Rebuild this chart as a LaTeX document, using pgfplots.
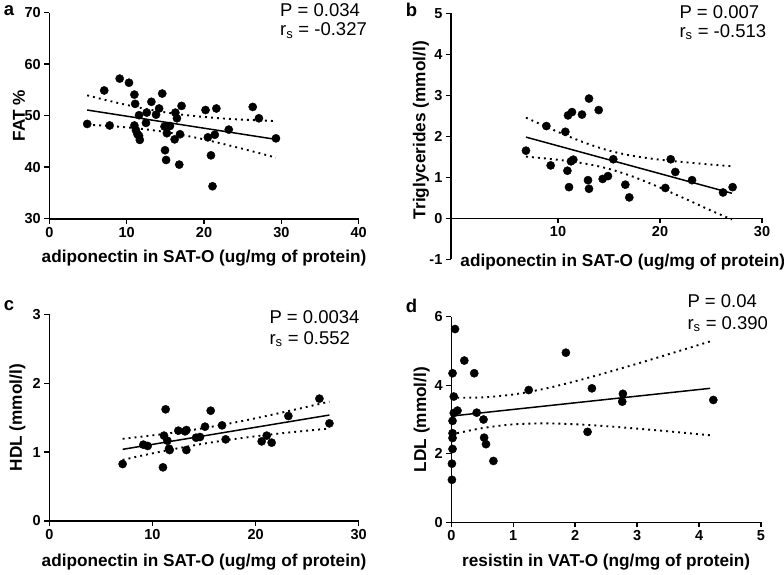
\documentclass[border=0pt]{standalone}
\usepackage{pgfplots}
\pgfplotsset{compat=1.18}
\usepackage{fontspec}
\setmainfont{Liberation Sans}
\begin{document}
\begin{tikzpicture}
\path[use as bounding box] (0pt,0pt) rectangle (784pt,574pt);
\pgfplotsset{
  panel/.style={scale only axis, axis lines*=left,
    axis line style={line width=1.6pt},
    tick style={line width=1.4pt, black}, tick align=outside, major tick length=5pt,
    ticklabel style={font=\bfseries\fontsize{14.5}{16}\selectfont},
    /pgf/number format/assume math mode=true,
    label style={font=\bfseries\fontsize{17.2}{19}\selectfont},
    clip=false},
  dots/.style={only marks, mark=*, mark size=4.1pt, black},
  fitl/.style={no marks, black, line width=1.5pt},
  band/.style={no marks, black, line width=1.9pt, dash pattern=on 1.9pt off 4.1pt, smooth},
}
% ---------- panel a ----------
\begin{axis}[panel, at={(49.3pt,355.3pt)}, anchor=south west, width=309.4pt, height=206pt,
  xmin=0, xmax=40, ymin=30, ymax=70, xtick={0,10,20,30,40}, ytick={30,40,50,60,70},
  xlabel={adiponectin in SAT-O (ug/mg of protein)},
  xlabel style={at={(axis description cs:0.5,0)}, anchor=base, yshift=-43.3pt},
  ylabel={FAT \%},
  ylabel style={at={(axis description cs:-0.098,0.5)}, anchor=center}]
\addplot[dots] coordinates {
(4.9,48.4) (7.1,54.9) (7.8,48.1) (9.1,57.2) (10.3,56.4) (11.0,54.1) (11.1,52.3)
(11.0,48.1) (11.2,47.2) (11.4,46.4) (11.6,46.1) (11.7,45.3) (11.6,50.1) (12.6,50.6)
(12.5,48.6) (13.2,52.7) (13.8,50.2) (14.2,51.4) (14.6,54.3) (14.9,47.9) (14.96,43.3)
(15.1,41.4) (15.2,46.6) (15.6,48.0) (16.3,50.6) (16.5,49.5) (16.2,45.4) (16.9,46.4)
(16.8,40.5) (17.1,51.9) (20.2,51.1) (20.5,45.8) (20.9,42.3) (21.4,46.3) (21.6,51.4)
(21.1,36.3) (23.2,47.3) (26.3,51.7) (27.1,49.5) (29.3,45.6)};
\addplot[fitl] coordinates {(4.9,51.1) (29.3,45.4)};
\addplot[band] coordinates {(4.9,53.95) (7,53.15) (9,52.43) (11,51.77) (13,51.17) (15,50.65) (17,50.23) (19,49.90) (21,49.63) (23,49.41) (25,49.23) (27,49.10) (29.3,48.95)};
\addplot[band] coordinates {(4.9,48.25) (7,48.07) (9,47.85) (11,47.59) (13,47.25) (15,46.83) (17,46.31) (19,45.72) (21,45.05) (23,44.33) (25,43.57) (27,42.79) (29.3,41.85)};
\end{axis}
% ---------- panel b ----------
\begin{axis}[panel, axis x line*=middle, axis y line*=left,
  at={(450.9pt,314.7pt)}, anchor=south west, width=311.1pt, height=246pt,
  xmin=-0.5, xmax=30, ymin=-1, ymax=5, xtick={10,20,30}, ytick={-1,0,1,2,3,4,5},
  xlabel={adiponectin in SAT-O (ug/mg of protein)},
  xlabel style={at={(axis description cs:0,0)}, anchor=base west, xshift=6pt, yshift=-6.7pt},
  ylabel={Triglycerides (mmol/l)},
  ylabel style={at={(axis description cs:-0.0965,0.525)}, anchor=center}]
\addplot[dots] coordinates {
(6.86,1.65) (8.86,2.25) (9.28,1.29) (10.72,2.11) (10.98,2.51) (11.37,2.59) (10.92,1.16)
(11.08,0.76) (11.27,1.39) (11.5,1.43) (12.35,2.53) (13.04,2.92) (12.94,0.93) (13.04,0.72)
(13.99,2.64) (14.38,0.96) (14.9,1.03) (15.42,1.44) (16.6,0.82) (16.99,0.51) (20.52,0.74)
(21.05,1.44) (21.5,1.13) (23.14,0.93) (26.18,0.63) (27.12,0.76)};
\addplot[fitl] coordinates {(6.86,1.98) (27.06,0.61)};
\addplot[band] coordinates {(6.86,2.455) (9,2.216) (11,2.002) (13,1.809) (15,1.651) (17,1.538) (19,1.460) (21,1.402) (23,1.355) (25,1.311) (27.06,1.270)};
\addplot[band] coordinates {(6.86,1.505) (9,1.454) (11,1.396) (13,1.319) (15,1.205) (17,1.048) (19,0.854) (21,0.640) (23,0.417) (25,0.189) (27.06,-0.03)};
\end{axis}
% ---------- panel c ----------
\begin{axis}[panel, at={(49.3pt,53pt)}, anchor=south west, width=309.4pt, height=206.7pt,
  xmin=0, xmax=30, ymin=0, ymax=3, xtick={0,10,20,30}, ytick={0,1,2,3},
  xlabel={adiponectin in SAT-O (ug/mg of protein)},
  xlabel style={at={(axis description cs:0.5,0)}, anchor=base, yshift=-45.7pt},
  ylabel={HDL (mmol/l)},
  ylabel style={at={(axis description cs:-0.103,0.5)}, anchor=center}]
\addplot[dots] coordinates {
(7.11,0.827) (9.12,1.108) (9.54,1.089) (11.02,0.779) (11.12,1.239) (11.28,1.621) (11.45,1.166)
(11.61,1.050) (11.67,1.030) (12.51,1.311) (13.16,1.301) (13.3,1.32) (13.29,1.030) (14.23,1.209)
(14.61,1.219) (15.10,1.369) (15.65,1.601) (16.75,1.388) (17.10,1.185) (20.59,1.156)
(21.08,1.239) (21.56,1.137) (23.18,1.524) (26.19,1.776) (27.16,1.417)};
\addplot[fitl] coordinates {(7.11,1.040) (27.16,1.538)};
\addplot[band] coordinates {(7.11,1.193) (9,1.225) (11,1.262) (13,1.302) (15,1.349) (17,1.402) (19,1.460) (21,1.523) (23,1.589) (25,1.657) (27.16,1.733)};
\addplot[band] coordinates {(7.11,0.887) (9,0.950) (11,1.013) (13,1.070) (15,1.123) (17,1.170) (19,1.211) (21,1.248) (23,1.281) (25,1.311) (27.16,1.343)};
\end{axis}
% ---------- panel d ----------
\begin{axis}[panel, at={(451.3pt,51.7pt)}, anchor=south west, width=309.7pt, height=205.6pt,
  xmin=0, xmax=5, ymin=0, ymax=6, xtick={0,1,2,3,4,5}, ytick={0,2,4,6},
  xlabel={resistin in VAT-O (ng/mg of protein)},
  xlabel style={at={(axis description cs:0.5,0)}, anchor=base, yshift=-44.4pt},
  ylabel={LDL (mmol/l)},
  ylabel style={at={(axis description cs:-0.096,0.5)}, anchor=center}]
\addplot[dots] coordinates {
(0.06,5.64) (0.21,4.72) (0.02,4.35) (0.37,4.35) (0.04,3.67) (0.10,3.26) (0.04,3.19)
(0.41,3.20) (0.02,2.96) (0.52,3.00) (0.02,2.60) (0.02,2.46) (0.53,2.47) (0.56,2.28)
(0.02,2.14) (0.01,1.71) (0.68,1.79) (0.01,1.24) (1.85,4.95) (1.25,3.86) (2.27,3.91)
(2.20,2.64) (2.77,3.75) (2.76,3.52) (4.23,3.57)};
\addplot[fitl] coordinates {(0,3.10) (4.18,3.91)};
\addplot[band] coordinates {(0,3.635) (0.5,3.645) (1,3.730) (1.5,3.895) (2,4.115) (2.5,4.365) (3,4.628) (3.5,4.901) (4,5.179) (4.18,5.280)};
\addplot[band] coordinates {(0,2.565) (0.5,2.749) (1,2.858) (1.5,2.887) (2,2.861) (2.5,2.805) (3,2.734) (3.5,2.655) (4,2.571) (4.18,2.540)};
\end{axis}
% ---------- panel letters and statistics ----------
\begin{scope}[every node/.style={inner sep=0pt}]
\node[font=\bfseries\fontsize{18.5}{20}\selectfont] at (9pt,563.5pt) {a};
\node[font=\bfseries\fontsize{18.5}{20}\selectfont] at (411.5pt,564pt) {b};
\node[font=\bfseries\fontsize{18.5}{20}\selectfont] at (9pt,268pt) {c};
\node[font=\bfseries\fontsize{18.5}{20}\selectfont] at (411.5pt,268pt) {d};
\node[anchor=base west, font=\fontsize{18.5}{20}\selectfont] at (280pt,557.3pt) {P = 0.034};
\node[anchor=base west, font=\fontsize{18.5}{20}\selectfont] at (280pt,538pt) {r\textsubscript{s} = -0.327};
\node[anchor=base west, font=\fontsize{18.5}{20}\selectfont] at (679.3pt,555.7pt) {P = 0.007};
\node[anchor=base west, font=\fontsize{18.5}{20}\selectfont] at (679.3pt,536.7pt) {r\textsubscript{s} = -0.513};
\node[anchor=base west, font=\fontsize{18.5}{20}\selectfont] at (269.3pt,250.7pt) {P = 0.0034};
\node[anchor=base west, font=\fontsize{18.5}{20}\selectfont] at (269.3pt,230pt) {r\textsubscript{s} = 0.552};
\node[anchor=base west, font=\fontsize{18.5}{20}\selectfont] at (687.3pt,266.7pt) {P = 0.04};
\node[anchor=base west, font=\fontsize{18.5}{20}\selectfont] at (687.3pt,244.7pt) {r\textsubscript{s} = 0.390};
\end{scope}
\end{tikzpicture}
\end{document}
